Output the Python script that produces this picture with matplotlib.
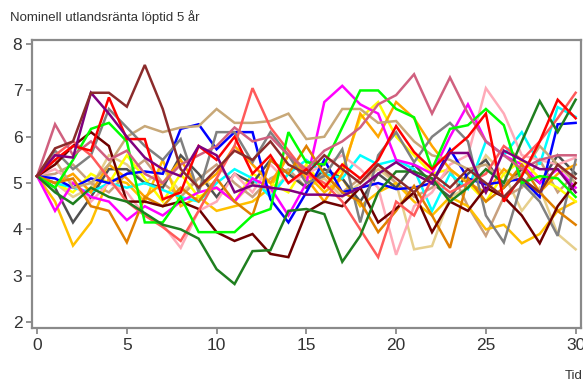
import numpy as np
import matplotlib
matplotlib.use("Agg")
import matplotlib.pyplot as plt

plt.rcParams['font.family'] = ['Liberation Sans', 'DejaVu Sans']

tid = list(range(31))

# simulerade banor, nominell utlandsränta (%)
brown = [5.15, 5.75, 5.9, 6.95, 6.95, 6.65, 7.55, 6.6, 5.3, 4.9, 5.3, 5.7, 5.5, 5.9, 5.4, 5.2,
         5.6, 5.3, 5.0, 5.4, 5.1, 4.8, 5.2, 4.9, 5.3, 5.0, 4.7, 5.1, 4.8, 5.4, 5.1]
purple = [5.15, 5.6, 5.55, 6.95, 6.5, 6.0, 5.55, 5.3, 5.15, 5.8, 5.6, 4.8, 4.95, 4.9, 4.85, 4.75,
          4.75, 4.72, 4.9, 5.2, 5.45, 5.2, 5.0, 5.65, 5.65, 4.8, 5.7, 5.5, 5.3, 5.3, 4.8]
red = [5.15, 5.5, 5.8, 5.7, 6.85, 5.95, 5.95, 4.65, 4.8, 5.8, 5.5, 6.0, 5.2, 5.6, 5.0, 5.3,
       4.9, 5.4, 5.1, 5.5, 6.23, 5.67, 5.3, 5.67, 6.0, 6.5, 4.6, 5.15, 5.9, 6.8, 6.4]
darkgreen = [5.15, 4.8, 4.55, 4.9, 4.7, 4.6, 4.35, 4.1, 4.0, 3.8, 3.14, 2.82, 3.53, 3.55, 4.4, 4.44,
             4.33, 3.3, 3.86, 4.8, 5.25, 5.25, 5.1, 4.6, 4.9, 5.3, 5.0, 5.9, 6.77, 6.1, 6.8]
lime = [5.15, 4.9, 5.5, 6.17, 6.3, 5.9, 4.15, 4.15, 4.7, 3.94, 3.94, 3.94, 4.3, 4.44, 6.1, 5.45,
        5.4, 6.2, 7.0, 7.0, 6.6, 6.42, 5.3, 6.17, 6.25, 6.6, 6.25, 5.0, 5.15, 5.1, 4.7]
blue = [5.15, 5.1, 4.9, 5.1, 5.0, 5.2, 5.25, 5.2, 6.17, 6.27, 5.73, 6.1, 6.1, 4.65, 4.15, 4.8,
        5.5, 4.8, 4.9, 5.0, 4.87, 4.9, 5.0, 5.73, 5.1, 4.97, 5.03, 5.09, 4.7, 6.27, 6.3]
gray = [5.15, 5.7, 5.3, 5.6, 6.6, 6.2, 5.8, 5.5, 5.95, 4.8, 6.1, 6.1, 5.45, 6.1, 5.6, 5.0,
        5.15, 5.73, 4.15, 5.6, 6.1, 5.45, 6.0, 6.3, 5.9, 4.3, 3.72, 5.0, 4.6, 3.86, 5.5]
dimgray = [5.15, 4.9, 4.15, 4.7, 5.3, 5.3, 5.0, 4.9, 5.6, 5.2, 4.7, 5.2, 5.0, 5.5, 5.2, 4.9,
           5.3, 5.1, 4.6, 5.2, 4.9, 5.4, 5.0, 4.7, 5.2, 5.5, 4.9, 5.3, 5.0, 5.6, 5.2]
tan = [5.15, 5.5, 4.9, 5.0, 5.4, 6.0, 6.23, 6.1, 6.2, 6.23, 6.6, 6.3, 6.3, 6.34, 6.5, 5.95,
       6.0, 6.6, 6.6, 6.3, 6.34, 5.9, 5.6, 5.5, 5.3, 5.4, 5.0, 5.2, 5.8, 5.4, 5.0]
khaki = [5.15, 5.0, 4.7, 4.9, 5.6, 5.4, 5.0, 5.3, 4.8, 5.1, 4.9, 4.6, 5.0, 4.8, 5.2, 4.9,
         5.1, 4.7, 5.0, 5.3, 5.0, 3.57, 3.64, 4.7, 4.9, 5.6, 5.2, 4.4, 4.9, 3.9, 3.57]
amber = [5.15, 4.6, 3.65, 4.15, 5.1, 5.0, 4.6, 5.5, 4.5, 4.7, 4.4, 4.5, 4.6, 4.9, 5.6, 5.2,
         4.8, 5.1, 4.5, 4.8, 5.0, 4.6, 4.3, 4.7, 4.5, 4.0, 4.1, 3.7, 3.9, 4.4, 4.6]
yellow = [5.15, 5.0, 4.8, 5.2, 5.0, 5.6, 5.1, 4.6, 5.2, 4.7, 4.9, 4.6, 5.2, 5.0, 4.8, 5.4,
          4.9, 5.3, 6.4, 6.75, 6.0, 5.6, 5.2, 5.3, 5.0, 4.6, 5.2, 5.5, 5.1, 4.9, 4.6]
orange = [5.15, 5.0, 5.2, 4.8, 5.4, 5.1, 4.7, 5.0, 5.5, 4.9, 5.2, 5.8, 5.4, 5.0, 5.6, 5.1,
          4.6, 5.2, 6.5, 6.0, 6.75, 6.4, 5.8, 5.3, 5.0, 4.8, 5.3, 5.0, 4.8, 5.2, 5.4]
darkorange = [5.15, 5.0, 5.1, 4.5, 4.4, 3.72, 4.7, 4.5, 4.9, 4.6, 5.1, 4.6, 4.3, 5.5, 5.2, 5.8,
              5.2, 4.8, 4.6, 3.94, 4.4, 4.94, 4.3, 3.6, 5.1, 4.6, 4.9, 5.4, 4.8, 4.4, 4.1]
magenta = [5.15, 4.4, 5.0, 4.7, 4.6, 4.2, 4.5, 4.3, 4.6, 4.8, 4.9, 4.6, 5.1, 4.9, 4.3, 5.0,
           6.75, 7.1, 6.7, 6.5, 5.5, 5.4, 5.2, 6.0, 6.7, 5.9, 5.6, 5.4, 5.0, 5.3, 4.9]
cyan = [5.15, 5.0, 4.9, 4.8, 5.0, 4.9, 5.0, 4.85, 4.7, 4.6, 5.0, 5.3, 5.1, 4.7, 5.2, 5.5,
        5.2, 5.1, 5.6, 5.4, 5.5, 5.3, 4.4, 5.2, 4.87, 5.9, 5.6, 6.1, 5.4, 6.64, 6.43]
pink = [5.15, 5.3, 5.0, 4.6, 5.0, 4.8, 4.3, 4.1, 3.6, 4.4, 4.6, 5.2, 4.8, 5.4, 5.0, 5.2,
        5.4, 5.6, 5.3, 4.9, 3.45, 4.5, 4.8, 5.4, 5.6, 7.05, 6.5, 5.6, 5.5, 5.4, 5.55]
salmon = [5.15, 5.6, 5.9, 5.6, 5.1, 4.6, 4.3, 4.05, 3.75, 4.4, 5.1, 5.8, 7.05, 6.2, 5.7, 5.2,
          5.0, 4.6, 4.0, 3.4, 4.6, 4.3, 5.1, 4.8, 5.0, 5.2, 5.8, 5.5, 5.9, 6.4, 6.95]
violetred = [5.15, 6.27, 5.6, 5.9, 5.5, 5.7, 5.2, 5.0, 5.4, 5.6, 5.8, 6.2, 5.9, 6.0, 5.6, 5.3,
             5.7, 5.9, 6.2, 6.7, 6.9, 7.35, 6.5, 7.28, 6.5, 5.9, 5.6, 5.3, 5.5, 5.6, 5.6]
maroon = [5.15, 5.4, 5.8, 6.1, 5.8, 4.6, 4.6, 4.5, 4.6, 4.44, 3.94, 3.75, 3.9, 3.47, 3.4, 4.37,
          4.6, 4.5, 4.9, 4.15, 4.45, 4.8, 3.94, 4.6, 4.4, 4.9, 4.7, 4.3, 3.7, 4.5, 5.0]
rosybrown = [5.15, 5.2, 5.4, 5.0, 4.8, 5.2, 5.5, 5.0, 4.7, 5.1, 5.4, 5.0, 4.7, 5.1, 5.3, 4.9,
             5.2, 4.8, 5.1, 5.4, 5.0, 4.7, 4.9, 5.3, 4.5, 3.86, 4.7, 4.9, 5.5, 4.8, 5.2]

serier = [
    (khaki, '#e6cf8c'), (rosybrown, '#c8a07e'), (amber, '#ffc000'), (yellow, '#ffff00'),
    (dimgray, '#505050'), (cyan, '#00ffff'), (pink, '#ffaab8'), (orange, '#ffa500'),
    (magenta, '#ff00ff'), (blue, '#0000ff'), (tan, '#c8a878'), (gray, '#808080'),
    (darkorange, '#e08000'), (maroon, '#6e0000'), (salmon, '#ff5a5a'), (lime, '#00ff00'),
    (darkgreen, '#1f7f1f'), (violetred, '#d0607f'), (red, '#ff0000'), (purple, '#7f007f'),
    (brown, '#8b2b2b'),
]

fig = plt.figure(figsize=(5.83, 3.83), dpi=100)
ax = fig.add_axes([0.055, 0.1436, 0.9416, 0.752])

for y, c in serier:
    ax.plot(tid, y, color=c, lw=1.8, solid_joinstyle='miter')

ax.set_xlim(-0.28, 30.3)
ax.set_ylim(1.87, 8.09)
ax.set_xticks([0, 5, 10, 15, 20, 25, 30])
ax.set_yticks([2, 3, 4, 5, 6, 7, 8])

for s in ax.spines.values():
    s.set_color('#8a8a8a')
    s.set_linewidth(1.6)
ax.tick_params(colors='#8a8a8a', labelcolor='#333333', labelsize=12.5,
               direction='out', length=4, width=1.3, pad=3)

fig.text(0.017, 1 - 17 / 383, 'Nominell utlandsränta löptid 5 år',
         fontsize=9.5, color='#333333', va='center', ha='left')
fig.text(0.968, 1 - 376 / 383, 'Tid', fontsize=9.5, color='#333333',
         va='center', ha='left')

fig.savefig('out.png', dpi=100)
